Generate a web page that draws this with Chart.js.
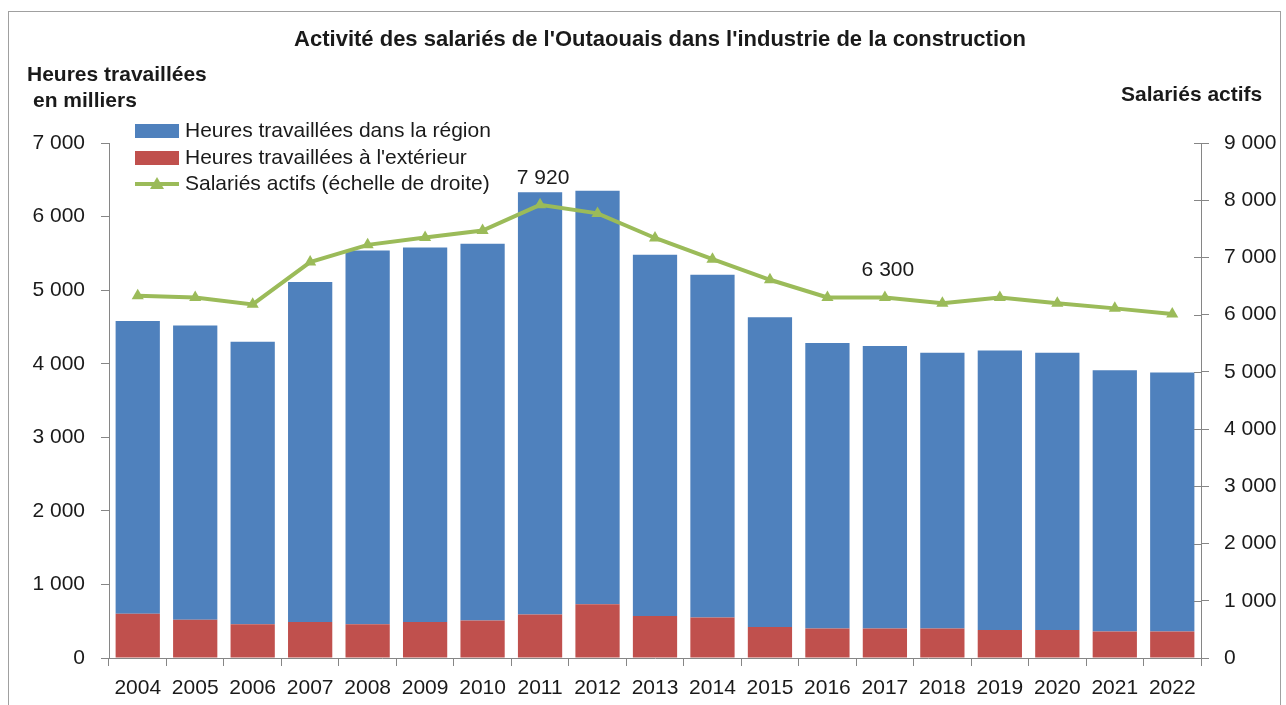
<!DOCTYPE html>
<html>
<head>
<meta charset="utf-8">
<script src="https://cdn.jsdelivr.net/npm/chart.js@4.4.0/dist/chart.umd.min.js"></script>
<style>
  html, body { margin: 0; padding: 0; background: #fff; overflow: hidden; }
  #wrap { position: relative; width: 1286px; height: 705px; }
  #frame { position: absolute; left: 8px; top: 11px; width: 1273px; height: 720px; border: 1px solid #a0a0a0; box-sizing: border-box; pointer-events: none; }
  canvas { position: absolute; left: 0; top: 0; }
</style>
</head>
<body>
<div id="wrap">
  <canvas id="c" width="1286" height="705"></canvas>
  <div id="frame"></div>
</div>
<script>
const years = ['2004','2005','2006','2007','2008','2009','2010','2011','2012','2013','2014','2015','2016','2017','2018','2019','2020','2021','2022'];
const heuresRegion = [3980, 4000, 3840, 4620, 5080, 5090, 5120, 5740, 5620, 4910, 4660, 4210, 3880, 3840, 3750, 3800, 3770, 3550, 3520];
const heuresExterieur = [600, 520, 460, 490, 460, 490, 510, 590, 730, 570, 550, 420, 400, 400, 400, 380, 380, 360, 360];
const salariesActifs = [6330, 6300, 6180, 6920, 7220, 7350, 7470, 7920, 7770, 7340, 6970, 6610, 6300, 6300, 6200, 6300, 6200, 6110, 6010];
const labeledPoints = [7, 13];

const titleText = "Activité des salariés de l'Outaouais dans l'industrie de la construction";
const leftTitle1 = 'Heures travaillées';
const leftTitle2 = 'en milliers';
const rightTitle = 'Salariés actifs';
const legendLabels = ['Heures travaillées dans la région', "Heures travaillées à l'extérieur", 'Salariés actifs (échelle de droite)'];

const FONT = "'Liberation Sans', Arial, sans-serif";
const BLUE = '#4F81BD', RED = '#C0504D', GREEN = '#9BBB59';
const AXIS = '#868686';
const TXT = '#1a1a1a';

function fmt(v) { return String(v).replace(/\B(?=(\d{3})+(?!\d))/g, ' '); }

const decor = {
  id: 'decor',
  afterDraw(chart) {
    const ctx = chart.ctx;
    ctx.save();
    // inner half of right-axis cross ticks
    const y2 = chart.scales.y2;
    const ax = chart.chartArea.right;
    ctx.strokeStyle = AXIS;
    ctx.lineWidth = 1;
    y2.ticks.forEach((t, i) => {
      const yy = Math.round(y2.getPixelForTick(i)) + 0.5;
      ctx.beginPath();
      ctx.moveTo(ax - 7, yy);
      ctx.lineTo(ax, yy);
      ctx.stroke();
    });
    ctx.fillStyle = TXT;
    ctx.textBaseline = 'middle';
    // title
    ctx.font = 'bold 22px ' + FONT;
    ctx.textAlign = 'center';
    ctx.fillText(titleText, 660, 40);
    // axis titles
    ctx.font = 'bold 21px ' + FONT;
    ctx.textAlign = 'left';
    ctx.fillText(leftTitle1, 27, 75);
    ctx.fillText(leftTitle2, 33, 101);
    ctx.fillText(rightTitle, 1121, 95);
    // legend
    const ys = [131, 158, 184];
    const cols = [BLUE, RED];
    for (let i = 0; i < 3; i++) {
      if (i < 2) {
        ctx.fillStyle = cols[i];
        ctx.fillRect(135, ys[i] - 7, 44, 14);
      } else {
        ctx.strokeStyle = GREEN;
        ctx.lineWidth = 4;
        ctx.beginPath();
        ctx.moveTo(135, ys[i]);
        ctx.lineTo(179, ys[i]);
        ctx.stroke();
        ctx.fillStyle = GREEN;
        ctx.beginPath();
        ctx.moveTo(157, ys[i] - 7);
        ctx.lineTo(164, ys[i] + 5);
        ctx.lineTo(150, ys[i] + 5);
        ctx.closePath();
        ctx.fill();
      }
      ctx.fillStyle = TXT;
      ctx.font = '21px ' + FONT;
      ctx.textAlign = 'left';
      ctx.fillText(legendLabels[i], 185, ys[i]);
    }
    // data labels
    const meta = chart.getDatasetMeta(2);
    ctx.font = '21px ' + FONT;
    ctx.textAlign = 'center';
    labeledPoints.forEach(i => {
      const p = meta.data[i];
      ctx.fillText(fmt(salariesActifs[i]), p.x + 3, p.y - 27);
    });
    ctx.restore();
  }
};

new Chart(document.getElementById('c'), {
  data: {
    labels: years,
    datasets: [
      { type: 'bar', label: legendLabels[1], data: heuresExterieur, backgroundColor: RED, yAxisID: 'y', order: 2, stack: 's', categoryPercentage: 0.77, barPercentage: 1 },
      { type: 'bar', label: legendLabels[0], data: heuresRegion, backgroundColor: BLUE, yAxisID: 'y', order: 2, stack: 's', categoryPercentage: 0.77, barPercentage: 1 },
      { type: 'line', label: legendLabels[2], data: salariesActifs, borderColor: GREEN, backgroundColor: GREEN, borderWidth: 4, pointStyle: 'triangle', pointRadius: 7, pointBorderWidth: 0, yAxisID: 'y2', order: 0, tension: 0 }
    ]
  },
  options: {
    responsive: false,
    animation: false,
    events: [],
    layout: { padding: { top: 143, left: 0, right: 0, bottom: 0 } },
    plugins: { legend: { display: false }, title: { display: false }, tooltip: { enabled: false } },
    scales: {
      x: {
        stacked: true,
        grid: { display: true, offset: true, drawOnChartArea: false, drawTicks: true, tickLength: 8, color: AXIS },
        border: { display: true, color: AXIS, width: 1 },
        ticks: { color: TXT, font: { family: FONT, size: 21 }, padding: 10, maxRotation: 0, autoSkip: false },
        afterFit(s) { s.height = 47; }
      },
      y: {
        position: 'left',
        stacked: true,
        min: 0, max: 7000,
        grid: { display: true, drawOnChartArea: false, drawTicks: true, tickLength: 8, color: AXIS },
        border: { display: true, color: AXIS, width: 1 },
        ticks: { stepSize: 1000, color: TXT, font: { family: FONT, size: 21 }, padding: 16, callback: v => fmt(v) },
        afterFit(s) { s.width = 109; }
      },
      y2: {
        position: 'right',
        min: 0, max: 9000,
        grid: { display: true, drawOnChartArea: false, drawTicks: true, tickLength: 8, color: AXIS },
        border: { display: true, color: AXIS, width: 1 },
        ticks: { stepSize: 1000, color: TXT, font: { family: FONT, size: 21 }, padding: 15, callback: v => fmt(v) },
        afterFit(s) { s.width = 85; }
      }
    }
  },
  plugins: [decor]
});
</script>
</body>
</html>
